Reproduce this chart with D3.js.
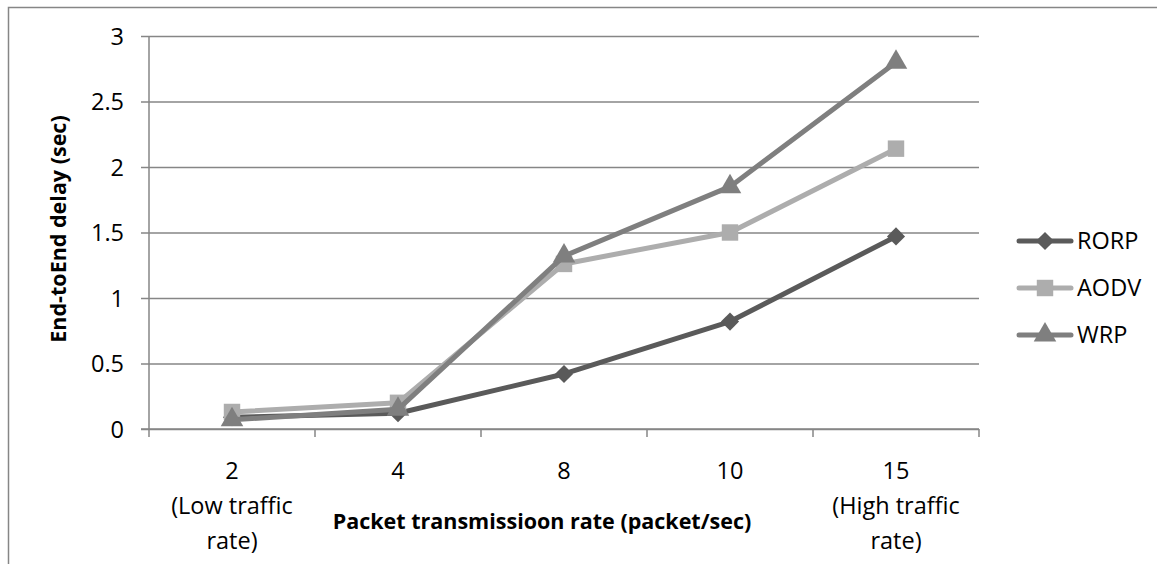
<!DOCTYPE html>
<html>
<head>
<meta charset="utf-8">
<script src="https://cdn.jsdelivr.net/npm/d3@7/dist/d3.min.js"></script>
<style>
  html, body { margin: 0; padding: 0; background: #fff; }
  svg { display: block; }
  text { font-family: "Open Sans", "DejaVu Sans", sans-serif; fill: #000; }
</style>
</head>
<body>
<svg id="chart" width="1157" height="564"></svg>
<script>
// Packet transmission rates (categories) and their two-line captions
const categories = ["2", "4", "8", "10", "15"];
const categoryNotes = [["(Low traffic", "rate)"], [], [], [], ["(High traffic", "rate)"]];

// End-to-end delay in seconds, per protocol
const rorp = [0.09, 0.12, 0.42, 0.82, 1.47];
const aodv = [0.13, 0.20, 1.26, 1.50, 2.14];
const wrp  = [0.07, 0.15, 1.32, 1.85, 2.80];

const seriesNames = ["RORP", "AODV", "WRP"];
const yTicks = [0, 0.5, 1, 1.5, 2, 2.5, 3];

const series = [
  { name: seriesNames[0], values: rorp, color: "#5a5a5a", marker: "diamond" },
  { name: seriesNames[1], values: aodv, color: "#adadad", marker: "square" },
  { name: seriesNames[2], values: wrp,  color: "#7f7f7f", marker: "triangle" }
];

const svg = d3.select("#chart");
const gridColor = "#868686";
const labelSize = 23.5;

// Outer chart frame
svg.append("rect")
  .attr("x", 8.5).attr("y", 7.5)
  .attr("width", 1200).attr("height", 600)
  .attr("fill", "none").attr("stroke", gridColor).attr("stroke-width", 1.5);

const plot = { left: 149, right: 979, top: 36, bottom: 429 };

const x = d3.scaleBand().domain(categories).range([plot.left, plot.right]).paddingInner(0).paddingOuter(0);
const y = d3.scaleLinear().domain([0, 3]).range([plot.bottom, plot.top]);

// Horizontal gridlines + y axis labels
const yAxis = d3.axisLeft(y).tickValues(yTicks).tickSize(-(plot.right - plot.left)).tickPadding(25).tickFormat(d3.format("~g"));
const gy = svg.append("g").attr("transform", `translate(${plot.left},0)`).call(yAxis);
gy.select(".domain").remove();
gy.selectAll(".tick line").attr("stroke", gridColor).attr("stroke-width", 1.5).attr("x1", -8);
gy.selectAll(".tick text").attr("font-size", labelSize).attr("font-family", "Open Sans").attr("fill", "#000").attr("dy", "0.35em");

// Vertical axis line
svg.append("line")
  .attr("x1", plot.left).attr("x2", plot.left)
  .attr("y1", plot.top).attr("y2", plot.bottom)
  .attr("stroke", gridColor).attr("stroke-width", 1.5);

// Category axis with boundary tick marks
const gx = svg.append("g").attr("transform", `translate(0,${plot.bottom})`);
gx.append("line")
  .attr("x1", plot.left - 8).attr("x2", plot.right)
  .attr("stroke", gridColor).attr("stroke-width", 1.5);
const boundaries = categories.map(c => x(c)).concat([x(categories[categories.length - 1]) + x.bandwidth()]);
gx.selectAll("line.tick").data(boundaries).join("line")
  .attr("class", "tick")
  .attr("x1", d => d).attr("x2", d => d)
  .attr("y1", 0).attr("y2", 8)
  .attr("stroke", gridColor).attr("stroke-width", 1.5);

const catLabels = svg.append("g");
categories.forEach((c, i) => {
  const cx = x(c) + x.bandwidth() / 2;
  const t = catLabels.append("text")
    .attr("x", cx).attr("y", 479)
    .attr("text-anchor", "middle").attr("font-size", labelSize);
  t.append("tspan").attr("x", cx).text(c);
  categoryNotes[i].forEach((line, j) => {
    t.append("tspan").attr("x", cx).attr("y", 479 + 35 * (j + 1)).text(line);
  });
});

// Axis titles
svg.append("text")
  .attr("x", 542).attr("y", 529)
  .attr("text-anchor", "middle")
  .attr("font-size", 21.5).attr("font-weight", "bold")
  .text("Packet transmissioon rate (packet/sec)");

svg.append("text")
  .attr("transform", "translate(66,229) rotate(-90)")
  .attr("text-anchor", "middle")
  .attr("font-size", 21.5).attr("font-weight", "bold")
  .text("End-toEnd delay (sec)");

// Marker shapes
function markerPath(type) {
  if (type === "diamond") return d3.symbol(d3.symbolDiamond2, 210)();
  if (type === "square") return d3.symbol(d3.symbolSquare, 270)();
  return d3.symbol(d3.symbolTriangle, 220)();
}

const line = d3.line()
  .x((d, i) => x(categories[i]) + x.bandwidth() / 2)
  .y(d => y(d));

const gs = svg.append("g");
series.forEach(s => {
  const g = gs.append("g");
  g.append("path")
    .attr("d", line(s.values))
    .attr("fill", "none").attr("stroke", s.color)
    .attr("stroke-width", 5).attr("stroke-linejoin", "round").attr("stroke-linecap", "round");
  g.selectAll("path.m").data(s.values).join("path")
    .attr("class", "m")
    .attr("d", markerPath(s.marker))
    .attr("transform", (d, i) => `translate(${x(categories[i]) + x.bandwidth() / 2},${y(d)})`)
    .attr("fill", s.color);
});

// Legend
const legend = svg.append("g");
series.forEach((s, i) => {
  const ly = 241 + i * 47;
  legend.append("line")
    .attr("x1", 1019).attr("x2", 1071).attr("y1", ly).attr("y2", ly)
    .attr("stroke", s.color).attr("stroke-width", 5).attr("stroke-linecap", "round");
  legend.append("path")
    .attr("d", markerPath(s.marker))
    .attr("transform", `translate(1045,${ly})`)
    .attr("fill", s.color);
  legend.append("text")
    .attr("x", 1077).attr("y", ly).attr("dy", "0.36em")
    .attr("font-size", labelSize)
    .text(s.name);
});
</script>
</body>
</html>
